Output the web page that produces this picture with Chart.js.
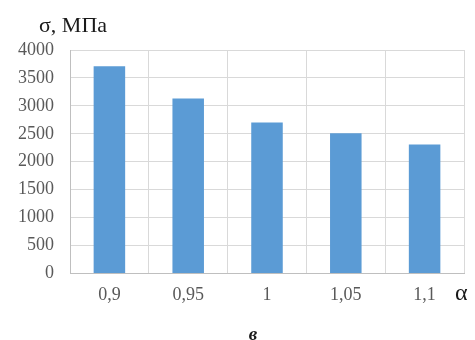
<!DOCTYPE html>
<html>
<head>
<meta charset="utf-8">
<script src="https://cdn.jsdelivr.net/npm/chart.js@4/dist/chart.umd.min.js"></script>
<style>
  html, body { margin: 0; padding: 0; background: #ffffff; }
  #wrap { width: 475px; height: 340px; position: relative; }
</style>
</head>
<body>
<div id="wrap"><canvas id="chart" width="475" height="340"></canvas></div>
<script>
// Stress vs. coefficient α
const categories = ['0,9', '0,95', '1', '1,05', '1,1'];
const stressValues = [3710, 3130, 2700, 2510, 2310];
const yTicks = [0, 500, 1000, 1500, 2000, 2500, 3000, 3500, 4000];

const yAxisTitle = 'σ, МПа';
const xAxisTitle = 'α';
const panelLabel = 'в';

const serif = '"Liberation Serif", "Times New Roman", serif';

// Axis captions and panel letter drawn on top of the chart
const captions = {
  id: 'captions',
  afterDraw(chart) {
    const { ctx, chartArea } = chart;
    ctx.save();
    ctx.fillStyle = '#1a1a1a';
    ctx.textBaseline = 'alphabetic';
    ctx.textAlign = 'left';
    ctx.font = '22px ' + serif;
    ctx.fillText(yAxisTitle, 39, 32);
    ctx.font = '24px ' + serif;
    ctx.fillText(xAxisTitle, chartArea.right - 9, 300);
    ctx.textAlign = 'center';
    ctx.font = 'bold italic 19px ' + serif;
    ctx.fillText(panelLabel, 253, 340);
    ctx.restore();
  }
};

new Chart(document.getElementById('chart'), {
  type: 'bar',
  data: {
    labels: categories,
    datasets: [{
      data: stressValues,
      backgroundColor: '#5b9bd5',
      borderWidth: 0,
      categoryPercentage: 1.0,
      barPercentage: 0.4
    }]
  },
  options: {
    responsive: false,
    animation: false,
    events: [],
    layout: { padding: { top: 50, right: 11, bottom: 23, left: 0 } },
    plugins: {
      legend: { display: false },
      tooltip: { enabled: false },
      title: { display: false }
    },
    scales: {
      x: {
        grid: { color: '#d9d9d9', lineWidth: 1, drawTicks: false, offset: true },
        border: { color: '#bfbfbf', width: 1 },
        ticks: {
          color: '#595959',
          font: { family: serif, size: 18 },
          padding: 11,
          maxRotation: 0
        }
      },
      y: {
        min: 0,
        max: 4000,
        afterBuildTicks(scale) {
          scale.ticks = yTicks.map(v => ({ value: v }));
        },
        afterFit(scale) { scale.width = 70; },
        grid: { color: '#d9d9d9', lineWidth: 1, drawTicks: false },
        border: { color: '#bfbfbf', width: 1 },
        ticks: {
          color: '#595959',
          font: { family: serif, size: 18 },
          padding: 16,
          callback: (v) => String(v)
        }
      }
    }
  },
  plugins: [captions]
});
</script>
</body>
</html>
